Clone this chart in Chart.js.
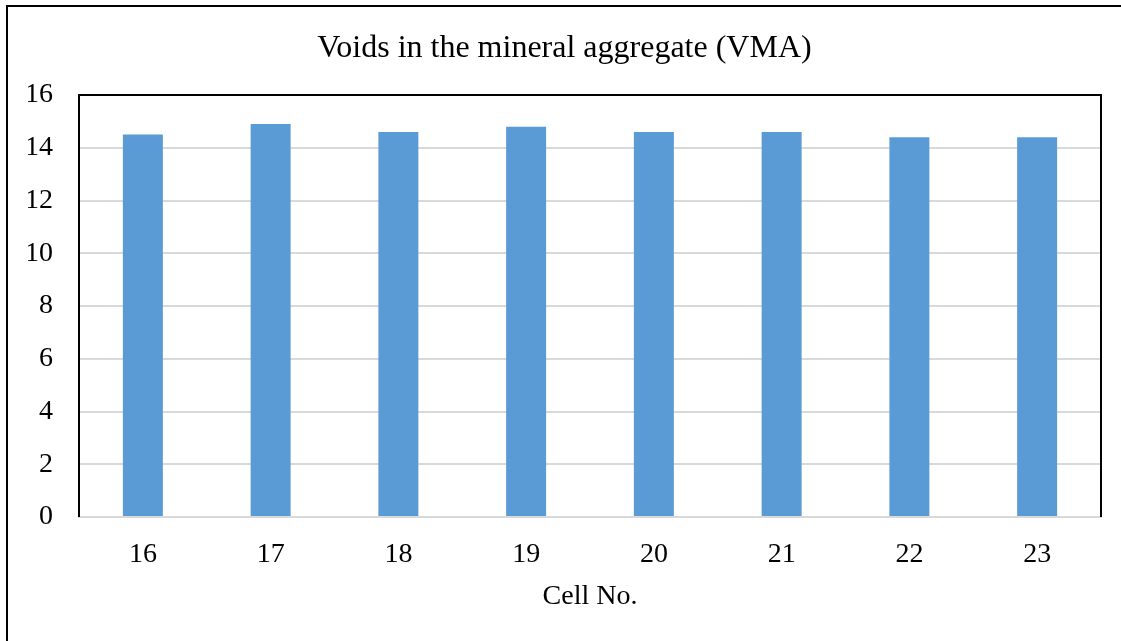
<!DOCTYPE html>
<html>
<head>
<meta charset="utf-8">
<script src="https://cdn.jsdelivr.net/npm/chart.js@4/dist/chart.umd.min.js"></script>
<style>
    html, body { margin: 0; padding: 0; background: #fff; }
    #wrap { position: relative; width: 1121px; height: 641px; }
</style>
</head>
<body>
<div id="wrap"><canvas id="vmaChart" width="1121" height="641"></canvas></div>
<script>
const cells = ['16', '17', '18', '19', '20', '21', '22', '23'];
const vmaValues = [14.5, 14.9, 14.6, 14.8, 14.6, 14.6, 14.4, 14.4];
const yTicks = [0, 2, 4, 6, 8, 10, 12, 14, 16];

const serif = "'Liberation Serif', 'Times New Roman', serif";

// outer frame and black box round the plot area
const framePlugin = {
    id: 'frame',
    beforeDraw(chart) {
        const ctx = chart.ctx;
        ctx.save();
        ctx.fillStyle = '#fff';
        ctx.fillRect(0, 0, chart.width, chart.height);
        ctx.strokeStyle = '#000';
        ctx.lineWidth = 2;
        ctx.beginPath();
        ctx.moveTo(7, chart.height);
        ctx.lineTo(7, 6);
        ctx.lineTo(chart.width, 6);
        ctx.stroke();
        ctx.restore();
    },
    afterDraw(chart) {
        const a = chart.chartArea;
        const ctx = chart.ctx;
        ctx.save();
        ctx.strokeStyle = '#000';
        ctx.lineWidth = 2;
        ctx.beginPath();
        ctx.moveTo(a.left, a.bottom);
        ctx.lineTo(a.left, a.top);
        ctx.lineTo(a.right, a.top);
        ctx.lineTo(a.right, a.bottom);
        ctx.stroke();
        ctx.restore();
    }
};

new Chart(document.getElementById('vmaChart').getContext('2d'), {
    type: 'bar',
    data: {
        labels: cells,
        datasets: [{
            label: 'VMA',
            data: vmaValues,
            backgroundColor: '#5b9bd5',
            borderWidth: 0,
            barPercentage: 0.313,
            categoryPercentage: 1
        }]
    },
    options: {
        responsive: false,
        animation: false,
        layout: { padding: { left: 28, right: 20, top: 0, bottom: 0 } },
        plugins: {
            legend: { display: false },
            tooltip: { enabled: false },
            title: {
                display: true,
                text: 'Voids in the mineral aggregate (VMA)',
                color: '#000',
                font: { family: serif, size: 32, weight: 'normal' },
                padding: { top: 29, bottom: 27.6 }
            }
        },
        scales: {
            x: {
                grid: { display: false, drawTicks: false },
                border: { display: true, color: '#d9d9d9', width: 2 },
                ticks: { color: '#000', font: { family: serif, size: 28 }, padding: 21 },
                title: {
                    display: true,
                    text: 'Cell No.',
                    color: '#000',
                    font: { family: serif, size: 28 },
                    padding: { top: 0, bottom: 28 }
                },
                afterFit(scale) { scale.height = 124; }
            },
            y: {
                min: 0,
                max: 16,
                afterBuildTicks(scale) { scale.ticks = yTicks.map(v => ({ value: v })); },
                grid: { color: '#d9d9d9', lineWidth: 2, drawTicks: false },
                border: { display: false },
                ticks: { color: '#000', font: { family: serif, size: 28 }, padding: 26 },
                afterFit(scale) { scale.width = 51; }
            }
        }
    },
    plugins: [framePlugin]
});
</script>
</body>
</html>
